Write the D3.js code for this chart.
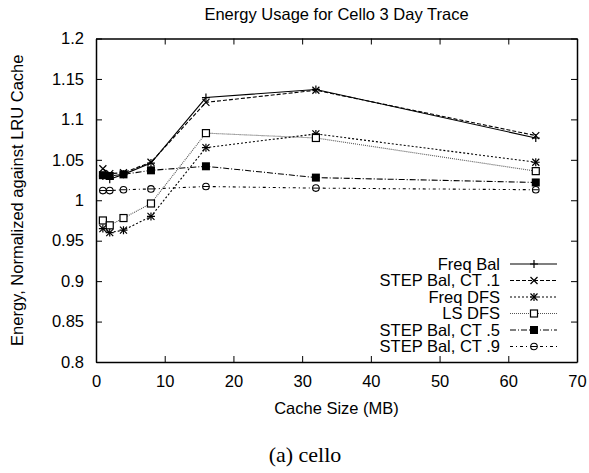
<!DOCTYPE html>
<html>
<head>
<meta charset="utf-8">
<script src="https://cdn.jsdelivr.net/npm/d3@7"></script>
<style>
  body { margin: 0; background: #fff; }
  svg { display: block; }
  text { font-family: "Liberation Sans", Arial, sans-serif; fill: #000; }
</style>
</head>
<body>
<svg id="chart" width="589" height="473"></svg>
<script>
// cache sizes (MB) and energy, normalized against LRU cache
var cacheSizes = [1, 2, 4, 8, 16, 32, 64];
var freqBal  = [1.030, 1.026, 1.032, 1.046, 1.127, 1.137, 1.077];
var stepCT1  = [1.039, 1.033, 1.034, 1.047, 1.121, 1.136, 1.080];
var freqDFS  = [0.965, 0.960, 0.963, 0.980, 1.065, 1.082, 1.047];
var lsDFS    = [0.975, 0.969, 0.978, 0.996, 1.083, 1.077, 1.036];
var stepCT5  = [1.031, 1.030, 1.032, 1.037, 1.042, 1.028, 1.022];
var stepCT9  = [1.012, 1.012, 1.013, 1.014, 1.017, 1.015, 1.013];

var seriesNames = ["Freq Bal", "STEP Bal, CT .1", "Freq DFS", "LS DFS", "STEP Bal, CT .5", "STEP Bal, CT .9"];
var xTicks = [0, 10, 20, 30, 40, 50, 60, 70];
var yTicks = [0.8, 0.85, 0.9, 0.95, 1, 1.05, 1.1, 1.15, 1.2];

var series = [
  { name: seriesNames[0], values: freqBal, dash: null,      marker: "plus" },
  { name: seriesNames[1], values: stepCT1, dash: "4,2",     marker: "cross" },
  { name: seriesNames[2], values: freqDFS, dash: "2,2",     marker: "star" },
  { name: seriesNames[3], values: lsDFS,   dash: "1,1",     marker: "square" },
  { name: seriesNames[4], values: stepCT5, dash: "6,2,1,2", marker: "filled" },
  { name: seriesNames[5], values: stepCT9, dash: "3,3,1,3", marker: "circle" }
];

var fontSize = "16.5px";

var svg = d3.select("#chart"),
    margin = { top: 38.5, right: 12, bottom: 111, left: 96 },
    width = +svg.attr("width") - margin.left - margin.right,
    height = +svg.attr("height") - margin.top - margin.bottom;

var x = d3.scaleLinear().domain([0, 70]).range([0, width]),
    y = d3.scaleLinear().domain([0.8, 1.2]).range([height, 0]);

var g = svg.append("g")
  .attr("transform", "translate(" + margin.left + "," + margin.top + ")");

// frame with inward ticks on every side (gnuplot style)
var tick = 6;
var bottomAxis = g.append("g")
  .attr("transform", "translate(0," + height + ")")
  .call(d3.axisBottom(x).tickValues(xTicks).tickSizeInner(-tick).tickSizeOuter(0).tickPadding(13));
var topAxis = g.append("g")
  .call(d3.axisTop(x).tickValues(xTicks).tickSizeInner(-tick).tickSizeOuter(0).tickFormat(""));
var leftAxis = g.append("g")
  .call(d3.axisLeft(y).tickValues(yTicks).tickSizeInner(-tick).tickSizeOuter(0).tickPadding(12)
    .tickFormat(function(d) { return d3.format("")(+d.toFixed(2)); }));
var rightAxis = g.append("g")
  .attr("transform", "translate(" + width + ",0)")
  .call(d3.axisRight(y).tickValues(yTicks).tickSizeInner(-tick).tickSizeOuter(0).tickFormat(""));

[bottomAxis, topAxis, leftAxis, rightAxis].forEach(function(a) {
  a.select(".domain").attr("stroke", "#000").attr("stroke-width", 1.5);
  a.selectAll(".tick line").attr("stroke", "#000").attr("stroke-width", 1);
  a.selectAll("text").attr("font-size", fontSize).attr("font-family", "Liberation Sans, Arial, sans-serif");
});

var line = d3.line()
  .x(function(d, i) { return x(cacheSizes[i]); })
  .y(function(d) { return y(d); });

function drawMarker(sel, type, cx, cy) {
  var s = 3.5;
  if (type === "plus" || type === "star") {
    sel.append("path").attr("d", "M" + (cx - s - 0.5) + "," + cy + "H" + (cx + s + 0.5) + "M" + cx + "," + (cy - s - 0.5) + "V" + (cy + s + 0.5))
      .attr("stroke", "#000").attr("stroke-width", 1.2);
  }
  if (type === "cross" || type === "star") {
    sel.append("path").attr("d", "M" + (cx - s) + "," + (cy - s) + "L" + (cx + s) + "," + (cy + s) + "M" + (cx - s) + "," + (cy + s) + "L" + (cx + s) + "," + (cy - s))
      .attr("stroke", "#000").attr("stroke-width", 1.2);
  }
  if (type === "square") {
    sel.append("rect").attr("x", cx - 3.5).attr("y", cy - 3.5).attr("width", 7).attr("height", 7)
      .attr("fill", "#fff").attr("stroke", "#000").attr("stroke-width", 1.2);
  }
  if (type === "filled") {
    sel.append("rect").attr("x", cx - 4).attr("y", cy - 4).attr("width", 8).attr("height", 8)
      .attr("fill", "#000");
  }
  if (type === "circle") {
    sel.append("circle").attr("cx", cx).attr("cy", cy).attr("r", 3.3)
      .attr("fill", "#fff").attr("stroke", "#000").attr("stroke-width", 1.1);
    sel.append("path").attr("d", "M" + (cx - 3) + "," + cy + "H" + (cx + 3))
      .attr("stroke", "#000").attr("stroke-width", 1);
  }
}

series.forEach(function(s) {
  g.append("path")
    .datum(s.values)
    .attr("fill", "none")
    .attr("stroke", s.marker === "square" ? "#555" : "#000")
    .attr("stroke-width", 1.1)
    .attr("stroke-dasharray", s.dash)
    .attr("d", line);
  var mg = g.append("g");
  s.values.forEach(function(v, i) {
    drawMarker(mg, s.marker, x(cacheSizes[i]), y(v));
  });
});

// legend
var legend = g.append("g").attr("transform", "translate(" + (500 - margin.left) + "," + (264 - margin.top) + ")");
series.forEach(function(s, i) {
  var row = legend.append("g").attr("transform", "translate(0," + (i * 16.5) + ")");
  row.append("text")
    .attr("x", 0).attr("y", 0).attr("dy", "0.35em")
    .attr("text-anchor", "end")
    .attr("font-size", fontSize)
    .text(s.name);
  row.append("path")
    .attr("d", "M10,0H57")
    .attr("fill", "none")
    .attr("stroke", s.marker === "square" ? "#555" : "#000")
    .attr("stroke-width", 1.1)
    .attr("stroke-dasharray", s.dash);
  drawMarker(row, s.marker, 34, 0);
});

// titles
svg.append("text")
  .attr("x", margin.left + width / 2).attr("y", 20)
  .attr("text-anchor", "middle")
  .attr("font-size", fontSize)
  .text("Energy Usage for Cello 3 Day Trace");

svg.append("text")
  .attr("x", margin.left + width / 2).attr("y", 414)
  .attr("text-anchor", "middle")
  .attr("font-size", fontSize)
  .text("Cache Size (MB)");

svg.append("text")
  .attr("transform", "translate(23," + (margin.top + height / 2) + ") rotate(-90)")
  .attr("text-anchor", "middle")
  .attr("font-size", fontSize)
  .text("Energy, Normalized against LRU Cache");

svg.append("text")
  .attr("x", 305).attr("y", 462)
  .attr("text-anchor", "middle")
  .attr("font-size", "22px")
  .style("font-family", "Liberation Serif, 'Times New Roman', serif")
  .text("(a) cello");
</script>
</body>
</html>
